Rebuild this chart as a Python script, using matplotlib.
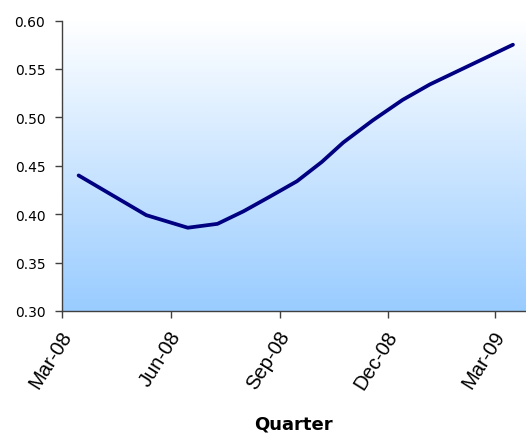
import matplotlib
matplotlib.use("Agg")
import matplotlib.pyplot as plt
import matplotlib.dates as mdates
from matplotlib.colors import LinearSegmentedColormap
import numpy as np
import pandas as pd

# Observation dates and values
dates = ["2008-03-15", "2008-05-11", "2008-06-15", "2008-07-10", "2008-08-01",
         "2008-08-23", "2008-09-15", "2008-10-06", "2008-10-24", "2008-11-18",
         "2008-12-13", "2009-01-05", "2009-03-16"]
values = [0.440, 0.399, 0.386, 0.390, 0.403,
          0.418, 0.434, 0.454, 0.474, 0.497,
          0.518, 0.534, 0.575]

tick_dates = ["2008-03-01", "2008-06-01", "2008-09-01", "2008-12-01", "2009-03-01"]
tick_labels = ["Mar-08", "Jun-08", "Sep-08", "Dec-08", "Mar-09"]
y_ticks = [0.30, 0.35, 0.40, 0.45, 0.50, 0.55, 0.60]

plt.rcParams["font.family"] = ["Liberation Sans", "DejaVu Sans"]

fig = plt.figure(figsize=(5.26, 4.35), dpi=100)
ax = fig.add_axes([62 / 526, 1 - 312 / 435, 1 - 62 / 526, (312 - 21.5) / 435])

x = mdates.date2num(pd.to_datetime(dates))
xt = mdates.date2num(pd.to_datetime(tick_dates))

# vertical gradient background: white at top, light blue at bottom
cmap = LinearSegmentedColormap.from_list("bg", ["#FFFFFF", "#99CCFF"])
grad = np.linspace(0, 1, 256).reshape(-1, 1)
ax.imshow(grad, cmap=cmap, aspect="auto", extent=[0, 1, 0, 1],
          transform=ax.transAxes, zorder=0, interpolation="bicubic")

ax.plot(x, values, color="#000080", lw=2.7, solid_capstyle="round",
        solid_joinstyle="round", zorder=3)

ax.set_xlim(mdates.date2num(pd.Timestamp("2008-03-01")),
            mdates.date2num(pd.Timestamp("2009-03-27")))
ax.set_ylim(0.30, 0.60)

ax.set_yticks(y_ticks)
ax.set_yticklabels([f"{v:.2f}" for v in y_ticks], fontsize=10,
                   family="DejaVu Sans")

# quarter ticks with slanted labels hanging below each tick
ax.set_xticks(xt)
ax.set_xticklabels([])
for pos, lab in zip(xt, tick_labels):
    ax.annotate(lab, xy=(pos, 0), xycoords=("data", "axes fraction"),
                xytext=(-3, -16), textcoords="offset pixels",
                rotation=58, rotation_mode="anchor", ha="right", va="top",
                fontsize=14.5, annotation_clip=False)

for side in ("top", "right"):
    ax.spines[side].set_visible(False)
for side in ("left", "bottom"):
    ax.spines[side].set_color("#404040")
    ax.spines[side].set_linewidth(1.0)
ax.tick_params(axis="both", direction="out", length=5, width=1,
               color="#404040", labelcolor="#000000")
ax.tick_params(axis="y", pad=7)

ax.set_xlabel("Quarter", fontsize=13, fontweight="bold", family="DejaVu Sans")
ax.xaxis.set_label_coords(0.499, -0.355)

fig.savefig("out.png", dpi=100)
